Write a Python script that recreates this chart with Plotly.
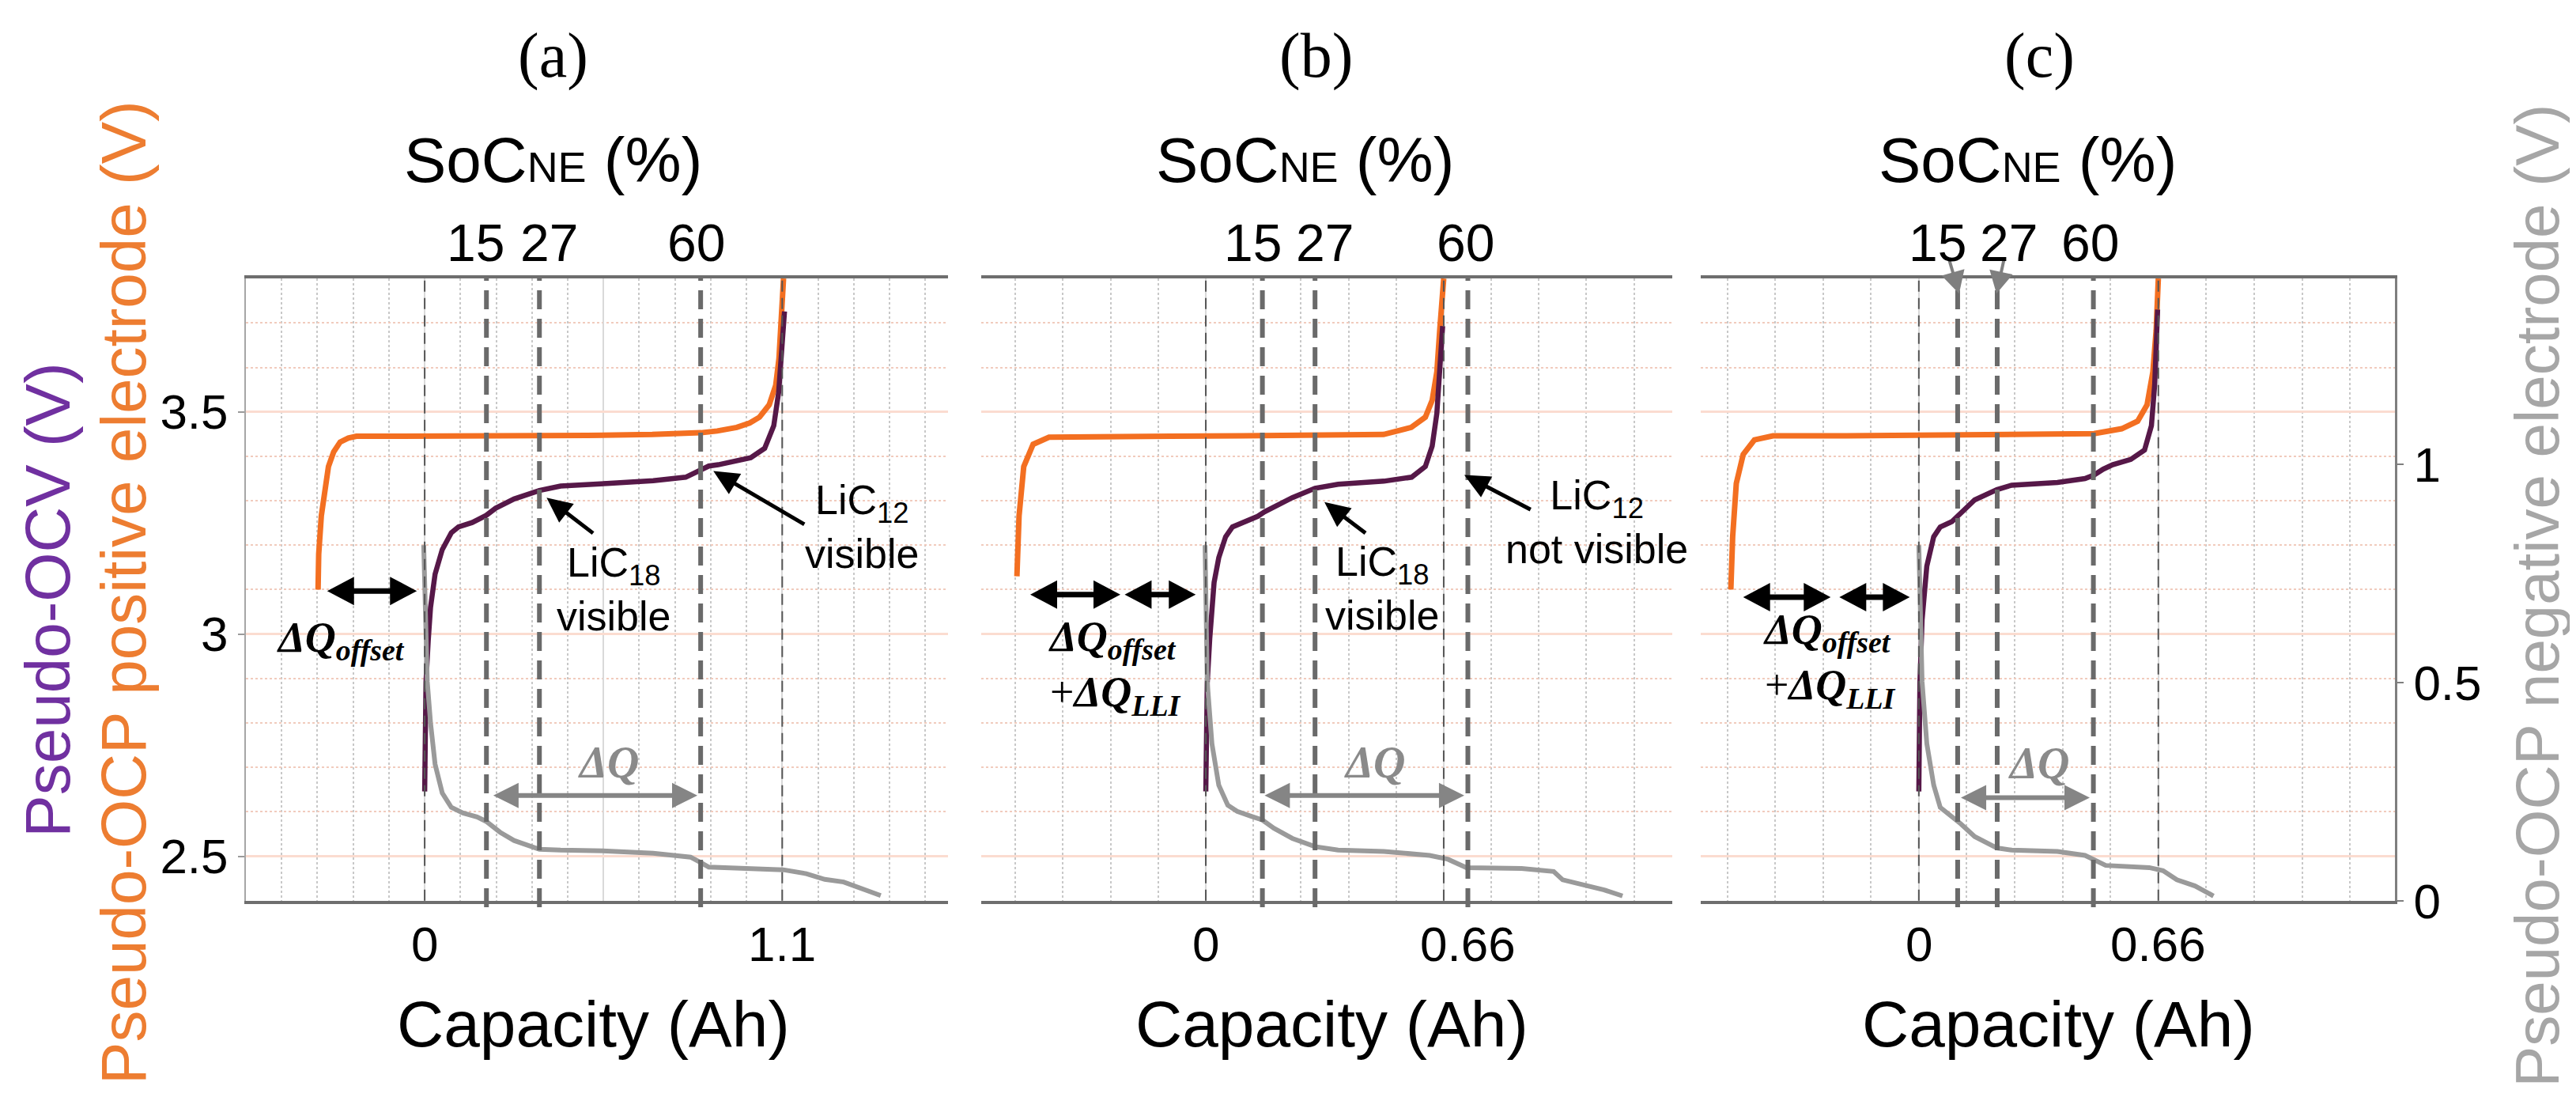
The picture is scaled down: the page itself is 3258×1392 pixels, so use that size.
import plotly.graph_objects as go

# ---------------- data ----------------
panel_labels = ["(a)", "(b)", "(c)"]
soc_labels = ["15", "27", "60"]

# panel (a)
pe_a_x = [-0.328, -0.326, -0.318, -0.305, -0.296, -0.28, -0.26, -0.235, -0.21, -0.1, 0.1, 0.3, 0.5, 0.7, 0.8, 0.85, 0.9, 0.96, 1.0, 1.03, 1.06, 1.08, 1.09, 1.098, 1.104]
pe_a_v = [3.10, 3.18, 3.266, 3.34, 3.377, 3.41, 3.432, 3.441, 3.445, 3.445, 3.445, 3.446, 3.447, 3.449, 3.451, 3.453, 3.457, 3.465, 3.475, 3.488, 3.516, 3.56, 3.62, 3.70, 3.80]
ocv_a_x = [0.0, 0.004, 0.011, 0.018, 0.032, 0.054, 0.082, 0.104, 0.146, 0.175, 0.189, 0.218, 0.275, 0.353, 0.418, 0.561, 0.703, 0.803, 0.846, 0.874, 0.903, 0.96, 1.003, 1.046, 1.074, 1.089, 1.1, 1.107]
ocv_a_v = [2.646, 2.892, 2.986, 3.06, 3.135, 3.19, 3.228, 3.241, 3.251, 3.26, 3.267, 3.283, 3.304, 3.323, 3.333, 3.339, 3.345, 3.353, 3.367, 3.378, 3.381, 3.389, 3.397, 3.418, 3.469, 3.544, 3.637, 3.726]
ne_a_x = [-0.003, 0.004, 0.008, 0.018, 0.032, 0.054, 0.082, 0.118, 0.161, 0.189, 0.232, 0.275, 0.353, 0.418, 0.561, 0.703, 0.818, 0.853, 0.874, 0.989, 1.103, 1.174, 1.231, 1.289, 1.346, 1.403]
ne_a_v = [0.815, 0.597, 0.502, 0.408, 0.313, 0.247, 0.214, 0.201, 0.192, 0.182, 0.157, 0.138, 0.118, 0.116, 0.114, 0.109, 0.100, 0.086, 0.077, 0.074, 0.071, 0.062, 0.049, 0.043, 0.028, 0.012]

# panel (b)
pe_b_x = [-0.524, -0.521, -0.518, -0.505, -0.479, -0.435, -0.3, -0.1, 0.1, 0.3, 0.493, 0.57, 0.609, 0.628, 0.641, 0.649, 0.66]
pe_b_v = [3.13, 3.20, 3.266, 3.377, 3.427, 3.443, 3.445, 3.445, 3.446, 3.447, 3.449, 3.465, 3.488, 3.526, 3.59, 3.684, 3.80]
ocv_b_x = [0.0, 0.004, 0.011, 0.023, 0.036, 0.055, 0.074, 0.112, 0.144, 0.163, 0.24, 0.303, 0.367, 0.494, 0.571, 0.609, 0.628, 0.641, 0.65, 0.657]
ocv_b_v = [2.646, 2.89, 2.99, 3.116, 3.172, 3.219, 3.241, 3.253, 3.265, 3.275, 3.307, 3.328, 3.337, 3.344, 3.353, 3.377, 3.423, 3.497, 3.59, 3.693]
ne_b_x = [-0.002, 0.004, 0.017, 0.036, 0.061, 0.087, 0.125, 0.157, 0.189, 0.24, 0.303, 0.367, 0.494, 0.621, 0.672, 0.723, 0.876, 0.965, 0.99, 1.041, 1.105, 1.156]
ne_b_v = [0.815, 0.502, 0.36, 0.265, 0.219, 0.205, 0.194, 0.185, 0.166, 0.143, 0.124, 0.116, 0.113, 0.104, 0.095, 0.076, 0.074, 0.067, 0.048, 0.039, 0.025, 0.011]

# panel (c)
pe_c_x = [-0.518, -0.515, -0.513, -0.503, -0.484, -0.453, -0.402, -0.2, 0.0, 0.2, 0.483, 0.559, 0.603, 0.629, 0.645, 0.654, 0.66]
pe_c_v = [3.10, 3.16, 3.219, 3.339, 3.404, 3.437, 3.446, 3.446, 3.447, 3.448, 3.451, 3.462, 3.479, 3.516, 3.59, 3.684, 3.80]
ocv_c_x = [0.0, 0.003, 0.009, 0.022, 0.041, 0.059, 0.091, 0.11, 0.154, 0.215, 0.256, 0.382, 0.458, 0.483, 0.508, 0.534, 0.584, 0.622, 0.641, 0.65, 0.658]
ocv_c_v = [2.646, 2.89, 3.032, 3.153, 3.219, 3.241, 3.253, 3.269, 3.302, 3.325, 3.335, 3.341, 3.35, 3.358, 3.371, 3.381, 3.393, 3.414, 3.469, 3.562, 3.73]
ne_c_x = [0.0, 0.009, 0.022, 0.041, 0.059, 0.091, 0.116, 0.154, 0.215, 0.256, 0.382, 0.458, 0.483, 0.515, 0.635, 0.673, 0.711, 0.761, 0.812]
ne_c_v = [0.815, 0.502, 0.36, 0.265, 0.214, 0.194, 0.176, 0.147, 0.121, 0.116, 0.113, 0.104, 0.095, 0.081, 0.076, 0.069, 0.048, 0.034, 0.011]

# capacity-axis grid and tick labels
cap_gridvals = [[-0.55, 0, 0.55, 1.1], [0, 0.66], [0, 0.66]]
cap_tick_pos = [[0, 1.1], [0, 0.728], [0, 0.66]]
cap_tick_text = [["0", "1.1"], ["0", "0.66"], ["0", "0.66"]]
cap_minor = [0.11, 0.132, 0.132]
cap_range = [[-0.55, 1.61], [-0.623, 1.294], [-0.601, 1.312]]
cap_end = [1.1, 0.66, 0.66]

# SoC_NE markers (capacity position of lines and of their labels)
soc_line_pos = [[0.19, 0.353, 0.849], [0.157, 0.303, 0.727], [0.107, 0.216, 0.481]]
soc_label_pos = [[0.156, 0.384, 0.835], [0.13, 0.33, 0.72], [0.052, 0.248, 0.471]]

# annotation anchors (capacity, voltage)
offset_arrows = [[[-0.300, -0.024]], [[-0.487, -0.237], [-0.225, -0.028]], [[-0.484, -0.243], [-0.219, -0.025]]]
offset_arrow_v = [3.097, 3.089, 3.083]
offset_text_pos = [(-0.257, 2.986), (-0.441, 2.924), (-0.434, 2.941)]
dq_arrow = [[0.211, 0.839], [0.163, 0.717], [0.116, 0.471]]
dq_arrow_v = [2.637, 2.637, 2.632]
dq_text_pos = [(0.567, 2.712), (0.469, 2.712), (0.331, 2.71)]
lic_arrows = [
    [((0.518, 3.227), (0.375, 3.307)), ((1.168, 3.247), (0.888, 3.367))],
    [((0.443, 3.227), (0.329, 3.297)), ((0.901, 3.28), (0.717, 3.358))],
    [],
]
lic_texts = [
    [("LiC<sub>18</sub><br>visible", 0.583, 3.10), ("LiC<sub>12</sub><br>visible", 1.347, 3.241)],
    [("LiC<sub>18</sub><br>visible", 0.49, 3.102), ("LiC<sub>12</sub><br>not visible", 1.085, 3.253)],
    [],
]
top_arrows_c = [((0.083, 3.844), (0.111, 3.766)), ((0.235, 3.844), (0.214, 3.766))]

# ---------------- styling / layout ----------------
W, H = 3258, 1392
PLOT_TOP, PLOT_BOTTOM = 353, 1160
Y_DOM = [1 - PLOT_BOTTOM / H, 1 - PLOT_TOP / H]
X_PX = [[303, 1191], [1233, 2107], [2143, 3021]]
X_DOMS = [[a / W, b / W] for a, b in X_PX]
V_RANGE = [2.4, 3.8]
NE_RANGE = [0, 1.426]

ORANGE = "#F36F21"
PURPLE = "#561848"
GRAY = "#9a9a9a"
SANS = "Liberation Sans, Arial, sans-serif"
SERIF = "Liberation Serif, Times New Roman, serif"

pe_x = [pe_a_x, pe_b_x, pe_c_x]
pe_v = [pe_a_v, pe_b_v, pe_c_v]
ocv_x = [ocv_a_x, ocv_b_x, ocv_c_x]
ocv_v = [ocv_a_v, ocv_b_v, ocv_c_v]
ne_x = [ne_a_x, ne_b_x, ne_c_x]
ne_v = [ne_a_v, ne_b_v, ne_c_v]

# pixel scales (for arrow-head geometry only)
KX = [(X_PX[k][1] - X_PX[k][0]) / (cap_range[k][1] - cap_range[k][0]) for k in range(3)]
KY = (PLOT_BOTTOM - PLOT_TOP) / (V_RANGE[1] - V_RANGE[0])


def vpaper(v):
    return Y_DOM[0] + (v - V_RANGE[0]) / (V_RANGE[1] - V_RANGE[0]) * (Y_DOM[1] - Y_DOM[0])


def arrow_shapes(k, xid, tail, head, color, width, hl, hw, double=False):
    dxp = (head[0] - tail[0]) * KX[k]
    dyp = (head[1] - tail[1]) * KY
    n = (dxp ** 2 + dyp ** 2) ** 0.5
    ux, uy = dxp / n, dyp / n
    px, py = -uy * hw / 2, ux * hw / 2
    out = []

    def head_shape(pt, sx, sy):
        bx, by = sx * hl, sy * hl
        path = f"M0,0 L{bx + px:.2f},{by + py:.2f} L{bx - px:.2f},{by - py:.2f} Z"
        return dict(type="path", xref=xid, yref="paper", xsizemode="pixel", ysizemode="pixel",
                    xanchor=pt[0], yanchor=vpaper(pt[1]), path=path, fillcolor=color,
                    line=dict(width=0), layer="above")

    back = 0.8 * hl
    x1 = head[0] - ux * back / KX[k]
    v1 = head[1] - uy * back / KY
    if double:
        x0 = tail[0] + ux * back / KX[k]
        v0 = tail[1] + uy * back / KY
    else:
        x0, v0 = tail
    out.append(dict(type="line", xref=xid, yref="paper", x0=x0, x1=x1, y0=vpaper(v0), y1=vpaper(v1),
                    line=dict(color=color, width=width), layer="above"))
    out.append(head_shape(head, -ux, -uy))
    if double:
        out.append(head_shape(tail, ux, uy))
    return out


fig = go.Figure()
layout = dict(
    width=W, height=H, autosize=False,
    margin=dict(l=0, r=0, t=0, b=0),
    paper_bgcolor="white", plot_bgcolor="white",
    showlegend=False,
    font=dict(family=SANS, color="black", size=40),
)
shapes = []
annotations = []

for i in range(3):
    xid = "x" if i == 0 else f"x{i + 1}"
    yl = "y" if i == 0 else f"y{2 * i + 1}"
    yr = f"y{2 * i + 2}"
    xkey = "xaxis" if i == 0 else f"xaxis{i + 1}"
    ylkey = "yaxis" if i == 0 else f"yaxis{2 * i + 1}"
    yrkey = f"yaxis{2 * i + 2}"

    # traces
    fig.add_trace(go.Scatter(x=ne_x[i], y=ne_v[i], xaxis=xid, yaxis=yr, mode="lines",
                             line=dict(color=GRAY, width=6), hoverinfo="skip"))
    fig.add_trace(go.Scatter(x=pe_x[i], y=pe_v[i], xaxis=xid, yaxis=yl, mode="lines",
                             line=dict(color=ORANGE, width=7), hoverinfo="skip"))
    fig.add_trace(go.Scatter(x=ocv_x[i], y=ocv_v[i], xaxis=xid, yaxis=yl, mode="lines",
                             line=dict(color=PURPLE, width=6.5), hoverinfo="skip"))

    # bottom capacity axis (grid only; labels are placed below)
    layout[xkey] = dict(
        domain=X_DOMS[i], anchor=yl, range=cap_range[i],
        tickmode="array", tickvals=cap_gridvals[i], showticklabels=False, ticks="",
        showgrid=True, gridcolor="#d9d9d9", gridwidth=2,
        minor=dict(tick0=0, dtick=cap_minor[i], showgrid=True, gridcolor="#c8c8c8",
                   griddash="dot", gridwidth=2, ticks=""),
        showline=True, linecolor="#6e6e6e", linewidth=4, mirror=True,
        zeroline=False, fixedrange=True,
    )
    # left voltage axis
    layout[ylkey] = dict(
        domain=Y_DOM, anchor=xid, range=V_RANGE,
        tickmode="array", tickvals=[2.5, 3, 3.5], ticktext=["2.5", "3", "3.5"],
        showticklabels=(i == 0), tickfont=dict(size=62, family=SANS),
        ticks="outside" if i == 0 else "", ticklen=8, tickcolor="#9a9a9a", tickwidth=2,
        showgrid=True, gridcolor="#fbdcd0", gridwidth=3,
        minor=dict(tick0=0, dtick=0.1, showgrid=True, gridcolor="#f1cbbd", griddash="dot", gridwidth=2),
        showline=(i == 0), linecolor="#a6a6a6", linewidth=2,
        zeroline=False, fixedrange=True,
    )
    # right negative-electrode axis
    layout[yrkey] = dict(
        overlaying=yl, anchor=xid, side="right", range=NE_RANGE,
        tickmode="array", tickvals=[0, 0.5, 1], ticktext=["0", "0.5", "1"],
        showticklabels=(i == 2), tickfont=dict(size=62, family=SANS),
        ticks="outside" if i == 2 else "", ticklen=8, tickcolor="#7f7f7f", tickwidth=2,
        showgrid=False, showline=(i == 2), linecolor="#7f7f7f", linewidth=3,
        zeroline=False, fixedrange=True,
    )

    # dashed lines
    for xv in (0, cap_end[i]):
        shapes.append(dict(type="line", xref=xid, yref="paper", x0=xv, x1=xv, y0=Y_DOM[0], y1=Y_DOM[1],
                           line=dict(color="#555555", width=2, dash="14px,8px")))
    for xv in soc_line_pos[i]:
        shapes.append(dict(type="line", xref=xid, yref="paper", x0=xv, x1=xv, y0=Y_DOM[0] - 0.006, y1=Y_DOM[1],
                           line=dict(color="#6a6a6a", width=6, dash="24px,12px")))

    # SoC tick labels along the top edge, capacity tick labels along the bottom edge
    for lab, xv in zip(soc_labels, soc_label_pos[i]):
        annotations.append(dict(text=lab, x=xv, y=1 - 307 / H, xref=xid, yref="paper", showarrow=False,
                                font=dict(size=66, family=SANS), xanchor="center", yanchor="middle"))
    for lab, xv in zip(cap_tick_text[i], cap_tick_pos[i]):
        annotations.append(dict(text=lab, x=xv, y=1 - 1216 / H, xref=xid, yref="paper", showarrow=False,
                                font=dict(size=62, family=SANS), xanchor="center", yanchor="middle"))

    # panel label, SoC title, capacity title
    xc_lab = [691, 1656, 2571][i]
    annotations.append(dict(text=panel_labels[i], x=xc_lab / W, y=1 - 64 / H, xref="paper", yref="paper",
                            showarrow=False, font=dict(family=SERIF, size=80), xanchor="center", yanchor="middle"))
    xc_soc = [691, 1642, 2556][i]
    annotations.append(dict(text='SoC<span style="font-size:54px">NE</span> (%)', x=xc_soc / W, y=1 - 200 / H,
                            xref="paper", yref="paper", showarrow=False, font=dict(size=80, family=SANS),
                            xanchor="center", yanchor="middle"))
    xc_cap = [742, 1677, 2595][i]
    annotations.append(dict(text="Capacity (Ah)", x=xc_cap / W, y=1 - 1320 / H, xref="paper", yref="paper",
                            showarrow=False, font=dict(size=82, family=SANS), xanchor="center", yanchor="middle"))

    # offset arrows (black, double headed)
    for x0, x1 in offset_arrows[i]:
        shapes.extend(arrow_shapes(i, xid, (x0, offset_arrow_v[i]), (x1, offset_arrow_v[i]),
                                   "black", 7, 34, 36, double=True))
    tx, ty = offset_text_pos[i]
    if i == 0:
        otext = "<b><i>ΔQ</i></b><sub><b><i>offset</i></b></sub>"
        annotations.append(dict(text=otext, x=tx, y=ty, xref=xid, yref=yl, showarrow=False,
                                font=dict(family=SERIF, size=54), xanchor="center", yanchor="middle"))
    else:
        otext = "<b><i>ΔQ</i></b><sub><b><i>offset</i></b></sub><br>+<b><i>ΔQ</i></b><sub><b><i>LLI</i></b></sub>"
        annotations.append(dict(text=otext, x=tx, y=ty, xref=xid, yref=yl, showarrow=False, align="left",
                                font=dict(family=SERIF, size=54), xanchor="left", yanchor="middle"))

    # ΔQ gray arrow
    x0, x1 = dq_arrow[i]
    shapes.extend(arrow_shapes(i, xid, (x0, dq_arrow_v[i]), (x1, dq_arrow_v[i]), "#858585", 6, 32, 32,
                               double=True))
    tx, ty = dq_text_pos[i]
    annotations.append(dict(text="<b><i>ΔQ</i></b>", x=tx, y=ty, xref=xid, yref=yl, showarrow=False,
                            font=dict(family=SERIF, size=56, color="#8a8a8a"), xanchor="center", yanchor="middle"))

    # LiC arrows & texts
    for (t0, t1) in lic_arrows[i]:
        shapes.extend(arrow_shapes(i, xid, t0, t1, "black", 5, 32, 30))
    for (txt, tx, ty) in lic_texts[i]:
        annotations.append(dict(text=txt, x=tx, y=ty, xref=xid, yref=yl, showarrow=False,
                                font=dict(size=52, family=SANS), xanchor="center", yanchor="middle"))

    if i == 2:
        for (t0, t1) in top_arrows_c:
            shapes.extend(arrow_shapes(i, xid, t0, t1, "#7f7f7f", 4, 28, 30))

# axis titles
annotations.append(dict(text="Pseudo-OCV (V)", x=53 / W, y=1 - 770 / H, xref="paper", yref="paper",
                        textangle=-90, showarrow=False, font=dict(size=80, family=SANS, color="#7030A0"),
                        xanchor="center", yanchor="middle"))
annotations.append(dict(text="Pseudo-OCP positive electrode (V)", x=149 / W, y=1 - 760 / H, xref="paper",
                        yref="paper", textangle=-90, showarrow=False,
                        font=dict(size=80, family=SANS, color="#ED7D31"),
                        xanchor="center", yanchor="middle"))
annotations.append(dict(text="Pseudo-OCP negative electrode (V)", x=3201 / W, y=1 - 765 / H, xref="paper",
                        yref="paper", textangle=-90, showarrow=False,
                        font=dict(size=78, family=SANS, color="#a6a6a6"),
                        xanchor="center", yanchor="middle"))

layout["shapes"] = shapes
layout["annotations"] = annotations
fig.update_layout(**layout)
fig.write_html("out.html")
